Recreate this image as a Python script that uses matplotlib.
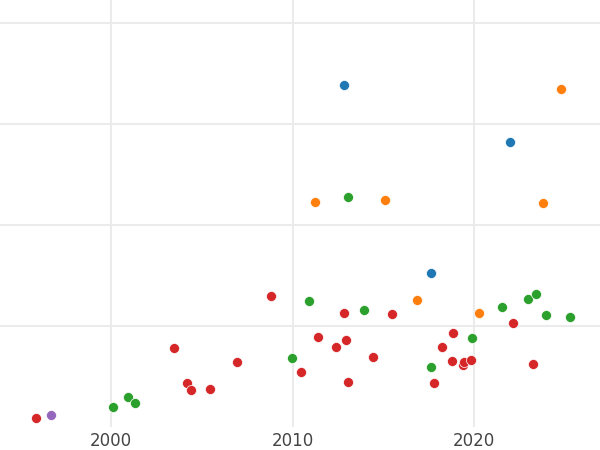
import matplotlib
matplotlib.use("Agg")
import matplotlib.pyplot as plt

# Data (year, value) by group colour
red_x = [1995.87, 2003.47, 2004.20, 2004.42, 2005.47, 2006.94, 2008.80, 2010.45, 2011.40,
         2012.41, 2012.84, 2012.95, 2013.07, 2014.44, 2015.47, 2017.80, 2018.25, 2018.86,
         2018.79, 2019.39, 2019.43, 2019.83, 2022.17, 2023.27]
red_y = [8.9, 77.9, 43.9, 37.0, 37.6, 64.7, 129.7, 54.8, 89.4,
         79.5, 112.9, 85.8, 44.2, 68.9, 111.5, 43.3, 79.5, 92.8,
         65.0, 61.4, 64.7, 66.3, 103.0, 62.1]

green_x = [2000.13, 2000.94, 2001.34, 2009.96, 2010.91, 2013.92, 2013.07, 2017.63,
           2019.91, 2021.53, 2022.99, 2023.42, 2023.97, 2025.29]
green_y = [19.5, 29.7, 23.8, 68.0, 125.0, 116.1, 227.7, 59.7,
           87.8, 118.8, 126.7, 132.0, 110.6, 108.6]

orange_x = [2011.24, 2015.11, 2016.84, 2020.28, 2023.82, 2024.79]
orange_y = [223.0, 225.1, 126.0, 113.2, 221.4, 335.0]

blue_x = [2012.84, 2017.63, 2021.98]
blue_y = [338.3, 152.8, 281.9]

purple_x = [1996.71]
purple_y = [12.2]

x_ticks = [2000, 2010, 2020]
y_ticks = [100, 200, 300, 400]

fig = plt.figure(figsize=(6, 4.5), dpi=100)
ax = fig.add_axes([0, 1 - 427 / 450, 1, 427 / 450])

groups = [
    (red_x, red_y, "#d62728"),
    (green_x, green_y, "#2ca02c"),
    (orange_x, orange_y, "#ff7f0e"),
    (blue_x, blue_y, "#1f77b4"),
    (purple_x, purple_y, "#9467bd"),
]
for xs, ys, c in groups:
    ax.scatter(xs, ys, s=52, color=c, edgecolors="white", linewidths=0.5, zorder=3)

ax.set_xlim(1993.88, 2026.94)
ax.set_ylim(0, 422.8)
ax.set_xticks(x_ticks)
ax.set_xticklabels([str(t) for t in x_ticks])
ax.set_yticks(y_ticks)
ax.set_yticklabels([])
ax.grid(True, color="#ebebeb", linewidth=1.5, zorder=0)
ax.set_axisbelow(True)
for s in ax.spines.values():
    s.set_visible(False)
ax.tick_params(axis="both", length=0, labelsize=12, labelcolor="#444444", pad=3.5)

fig.savefig("out.png", dpi=100)
